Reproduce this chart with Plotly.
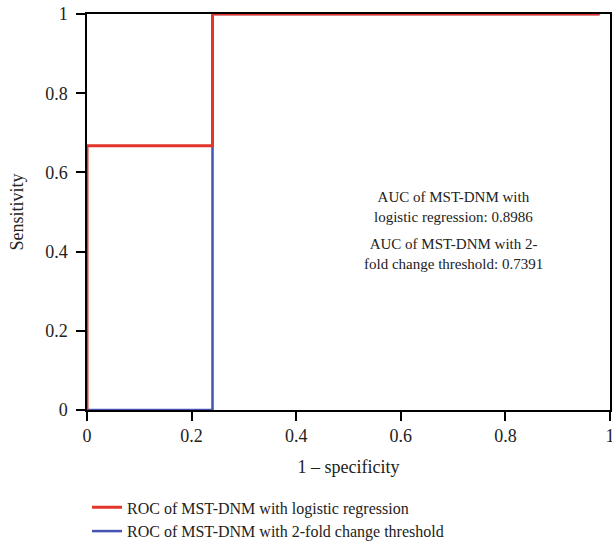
import plotly.graph_objects as go

# ROC curve points (1 - specificity, sensitivity)
lr_fpr = [0, 0, 0.24, 0.24, 0.98]
lr_tpr = [0, 0.667, 0.667, 1, 1]
fc_fpr = [0, 0.24, 0.24, 0.98]
fc_tpr = [0, 0, 1, 1]

lr_name = "ROC of MST-DNM with logistic regression"
fc_name = "ROC of MST-DNM with 2-fold change threshold"
auc_lr_text = "AUC of MST-DNM with<br>logistic regression: 0.8986"
auc_fc_text = "AUC of MST-DNM with 2-<br>fold change threshold: 0.7391"

tick_vals = [0, 0.2, 0.4, 0.6, 0.8, 1]
tick_text = ["0", "0.2", "0.4", "0.6", "0.8", "1"]

FONT = "Liberation Serif"
RED = "#e2352b"
BLUE = "#4653b3"

fig = go.Figure()
fig.add_trace(go.Scatter(x=fc_fpr, y=fc_tpr, mode="lines", name=fc_name,
                         line=dict(color=BLUE, width=2.5), cliponaxis=False,
                         legendrank=2))
fig.add_trace(go.Scatter(x=lr_fpr, y=lr_tpr, mode="lines", name=lr_name,
                         line=dict(color=RED, width=3), cliponaxis=False,
                         legendrank=1))

fig.add_annotation(x=0.70, y=0.513, xref="x", yref="y", text=auc_lr_text,
                   showarrow=False, font=dict(family=FONT, size=15, color="#222"),
                   align="center")
fig.add_annotation(x=0.70, y=0.394, xref="x", yref="y", text=auc_fc_text,
                   showarrow=False, font=dict(family=FONT, size=15, color="#222"),
                   align="center")

axis_common = dict(
    range=[0, 1], tickvals=tick_vals, ticktext=tick_text,
    showgrid=False, zeroline=False, showline=True, linecolor="black",
    linewidth=1.5, mirror=True, ticks="outside", ticklen=9, tickwidth=1.5,
    tickcolor="black", tickfont=dict(family=FONT, size=18, color="#222"),
    title_font=dict(family=FONT, size=18, color="#222"),
    automargin=False, layer="below traces", ticklabeloverflow="allow",
)

fig.update_layout(
    width=612, height=541,
    margin=dict(l=87, r=2, t=14, b=131, autoexpand=False),
    plot_bgcolor="white", paper_bgcolor="white",
    xaxis=dict(**axis_common, title=dict(text="1 – specificity", standoff=15)),
    yaxis=dict(**axis_common, title=dict(text="Sensitivity", standoff=17),
               ticklabelstandoff=5),
    legend=dict(x=0.0, y=-0.203, xanchor="left", yanchor="top",
                font=dict(family=FONT, size=16, color="#222"),
                bgcolor="rgba(0,0,0,0)"),
    showlegend=True,
)

# remove the browser's default 8px body margin so the figure fills the window
fig.write_html("out.html", config={"displayModeBar": False},
               post_script="document.body.style.margin='0';document.body.style.overflow='hidden';")
